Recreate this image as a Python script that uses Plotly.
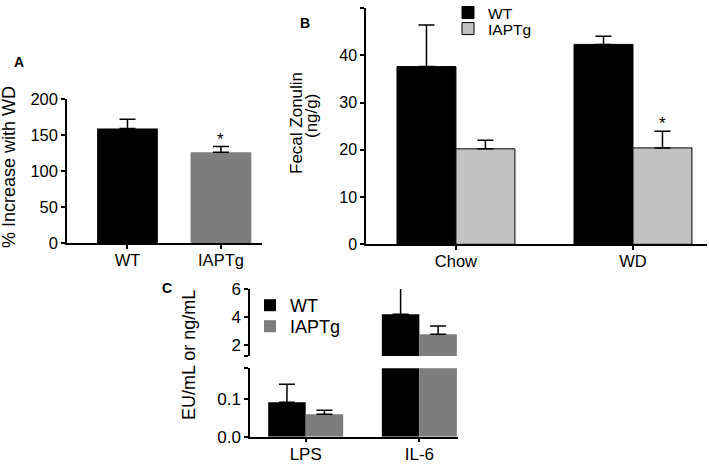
import plotly.graph_objects as go

# ---------------- data ----------------
# Panel A
a_groups = ["WT", "IAPTg"]
a_values = [159, 126]
a_errors = [13, 8]

# Panel B
b_diets = ["Chow", "WD"]
b_wt = [37.6, 42.3]
b_wt_err = [8.8, 1.7]
b_iap = [20.2, 20.4]
b_iap_err = [1.8, 3.5]

# Panel C
c_markers = ["LPS", "IL-6"]
c_wt = [0.092, 4.19]
c_wt_err = [0.048, 1.90]
c_iap = [0.060, 2.76]
c_iap_err = [0.011, 0.60]

W, H = 709, 466
FONT = "Liberation Sans, Arial, sans-serif"
BLACK = "#000000"
GREY_A = "#7d7d7d"
GREY_B = "#c2c2c2"
GREY_C = "#7d7d7d"


def px_x(p):
    return p / W


def px_y(p):
    return 1 - p / H


def err(arr):
    return dict(type="data", array=arr, arrayminus=[0] * len(arr), symmetric=False,
                color=BLACK, thickness=1.5, width=8)


fig = go.Figure()

# ---- Panel A ----
xa = list(range(len(a_groups)))
fig.add_trace(go.Bar(x=xa, y=a_values, width=0.65, marker=dict(color=[BLACK, GREY_A], line=dict(width=0)),
                     error_y=err(a_errors), xaxis="x", yaxis="y", showlegend=False))

# ---- Panel B ----
xb = list(range(len(b_diets)))
bw = 0.333
fig.add_trace(go.Bar(x=xb, y=b_wt, width=bw, offset=-bw, name="WT",
                     marker=dict(color=BLACK, line=dict(color=BLACK, width=1)),
                     error_y=err(b_wt_err), xaxis="x2", yaxis="y2", legend="legend"))
fig.add_trace(go.Bar(x=xb, y=b_iap, width=bw, offset=0, name="IAPTg",
                     marker=dict(color=GREY_B, line=dict(color=BLACK, width=1)),
                     error_y=err(b_iap_err), xaxis="x2", yaxis="y2", legend="legend3"))

# ---- Panel C (broken axis: lower + upper) ----
xc = list(range(len(c_markers)))
cw = 0.33
for ya, show in (("y3", False), ("y4", True)):
    fig.add_trace(go.Bar(x=xc, y=c_wt, width=cw, offset=-cw, name="WT",
                         marker=dict(color=BLACK, line=dict(width=0)),
                         error_y=err(c_wt_err), xaxis="x3", yaxis=ya,
                         showlegend=show, legend="legend2"))
    fig.add_trace(go.Bar(x=xc, y=c_iap, width=cw, offset=0, name="IAPTg",
                         marker=dict(color=GREY_C, line=dict(width=0)),
                         error_y=err(c_iap_err), xaxis="x3", yaxis=ya,
                         showlegend=show, legend="legend4"))

axis_common = dict(showline=True, linecolor=BLACK, linewidth=1.5, ticks="outside", ticklen=4,
                   tickwidth=1.5, tickcolor=BLACK, showgrid=False, zeroline=False,
                   fixedrange=True, automargin=False)

leg_common = dict(xanchor="left", yanchor="top", bgcolor="rgba(0,0,0,0)", borderwidth=0,
                  tracegroupgap=0)

fig.update_layout(
    width=W, height=H, autosize=False,
    margin=dict(l=0, r=0, t=0, b=0, autoexpand=False),
    paper_bgcolor="white", plot_bgcolor="white",
    barmode="overlay",
    font=dict(family=FONT, color=BLACK),
    xaxis=dict(axis_common, domain=[px_x(67), px_x(262)], range=[-0.647, 1.439], anchor="y",
               tickvals=xa, ticktext=a_groups, tickfont=dict(size=16.5), ticklabelstandoff=-3),
    yaxis=dict(axis_common, domain=[px_y(243), px_y(99)], range=[0, 200], dtick=50, anchor="x",
               tickfont=dict(size=16.5)),
    xaxis2=dict(axis_common, domain=[px_x(366), px_x(707)], range=[-0.508, 1.418], anchor="y2",
                tickvals=xb, ticktext=b_diets, tickfont=dict(size=16.5), ticklabelstandoff=-3),
    yaxis2=dict(axis_common, domain=[px_y(244.3), px_y(8)], range=[0, 50], dtick=10, anchor="x2",
                tickfont=dict(size=16)),
    xaxis3=dict(axis_common, domain=[px_x(250), px_x(458)], range=[-0.49, 1.34], anchor="y3",
                tickvals=xc, ticktext=c_markers, tickfont=dict(size=17), ticklabelstandoff=-3),
    yaxis3=dict(axis_common, domain=[px_y(436.7), px_y(368.3)], range=[0, 0.183], anchor="x3",
                tickvals=[0, 0.1, 0.183], ticktext=["0.0", "0.1", ""], tickfont=dict(size=17)),
    yaxis4=dict(axis_common, domain=[px_y(356), px_y(289)], range=[1.21, 6], anchor="x3",
                tickvals=[1.21, 2, 4, 6], ticktext=["", "2", "4", "6"], tickfont=dict(size=17)),
    legend=dict(leg_common, x=px_x(448), y=px_y(-4), font=dict(size=15.5)),
    legend3=dict(leg_common, x=px_x(448), y=px_y(12), font=dict(size=15.5)),
    legend2=dict(leg_common, x=px_x(250), y=px_y(287), font=dict(size=18)),
    legend4=dict(leg_common, x=px_x(250), y=px_y(308), font=dict(size=18)),
)

annotations = [
    dict(text="<b>A</b>", x=px_x(18.5), y=px_y(62), xref="paper", yref="paper", showarrow=False,
         xanchor="center", yanchor="middle", font=dict(size=14)),
    dict(text="<b>B</b>", x=px_x(305), y=px_y(23), xref="paper", yref="paper", showarrow=False,
         xanchor="center", yanchor="middle", font=dict(size=14)),
    dict(text="<b>C</b>", x=px_x(166.5), y=px_y(288), xref="paper", yref="paper", showarrow=False,
         xanchor="center", yanchor="middle", font=dict(size=14)),
    # axis titles
    dict(text="% Increase with WD", x=px_x(9), y=px_y(167), xref="paper", yref="paper",
         xanchor="center", yanchor="middle", showarrow=False, textangle=-90, font=dict(size=18)),
    dict(text="Fecal Zonulin", x=px_x(296), y=px_y(123), xref="paper", yref="paper",
         xanchor="center", yanchor="middle", showarrow=False, textangle=-90, font=dict(size=17)),
    dict(text="(ng/g)", x=px_x(311), y=px_y(116), xref="paper", yref="paper",
         xanchor="center", yanchor="middle", showarrow=False, textangle=-90, font=dict(size=17)),
    dict(text="EU/mL or ng/mL", x=px_x(189), y=px_y(355), xref="paper", yref="paper",
         xanchor="center", yanchor="middle", showarrow=False, textangle=-90, font=dict(size=18)),
    # significance stars, placed above the error bars
    dict(text="*", x=xa[1], y=a_values[1] + a_errors[1], xref="x", yref="y", yanchor="bottom",
         showarrow=False, font=dict(size=17), yshift=-4),
    dict(text="*", x=xb[1] + bw / 2, y=b_iap[1] + b_iap_err[1], xref="x2", yref="y2",
         yanchor="bottom", showarrow=False, font=dict(size=17), yshift=-4),
]
fig.update_layout(annotations=annotations)

fig.write_html("out.html", config={"displayModeBar": False},
               post_script="document.body.style.margin='0px';document.body.style.overflow='hidden';")
